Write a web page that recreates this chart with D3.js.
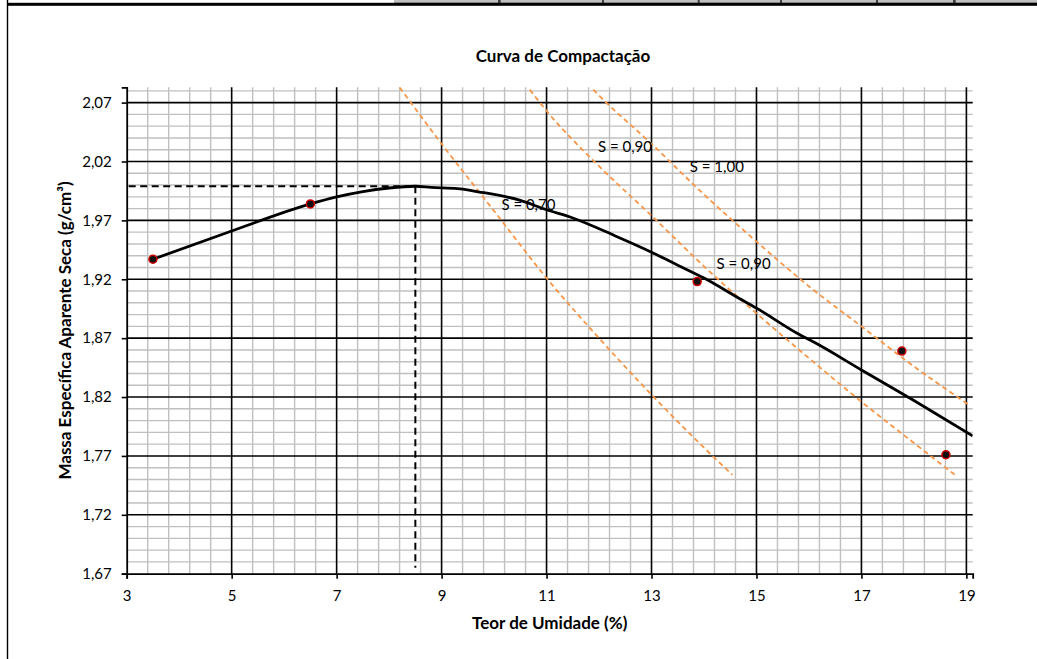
<!DOCTYPE html>
<html>
<head>
<meta charset="utf-8">
<script src="https://cdn.jsdelivr.net/npm/d3@7"></script>
<style>
    body { margin: 0; background: #fff; }
    svg { display: block; font-family: Lato, 'Open Sans', sans-serif; }
</style>
</head>
<body>
<div id="chart"></div>
<script>
// Data
const pointsW = [3.5, 6.5, 13.87, 17.77, 18.61];
const pointsG = [1.937, 1.984, 1.918, 1.859, 1.771];

// compaction curve (smoothed line)
const curveW = [3.5, 5.0, 6.5, 7.0, 7.5, 8.0, 8.5, 8.8, 9.3, 9.7, 10.5, 11.0, 11.5, 12.3, 13.0, 13.5, 14.0, 14.7, 15.0, 15.8, 16.1, 17.0, 18.0, 19.12];
const curveG = [1.937, 1.961, 1.984, 1.990, 1.9945, 1.9975, 1.999, 1.998, 1.997, 1.9943, 1.987, 1.979, 1.972, 1.957, 1.943, 1.932, 1.921, 1.903, 1.8955, 1.8735, 1.8665, 1.843, 1.817, 1.787];

// saturation lines
const s070W = [8.2, 9, 10, 11, 12, 13, 14, 14.54];
const s070G = [2.083, 2.035, 1.978, 1.921, 1.870, 1.822, 1.777, 1.754];
const s090W = [10.68, 11, 12, 13, 14, 15, 16, 17, 18, 18.78];
const s090G = [2.081, 2.063, 2.016, 1.974, 1.931, 1.891, 1.853, 1.816, 1.781, 1.754];
const s100W = [11.89, 12, 13, 14, 15, 16, 17, 18, 19.06];
const s100G = [2.081, 2.076, 2.035, 1.992, 1.952, 1.914, 1.880, 1.846, 1.813];

const labelTexts = ['S = 0,70', 'S = 0,90', 'S = 1,00', 'S = 0,90'];
const labelW = [10.14, 11.98, 13.73, 14.24];
const labelG = [1.983, 2.0325, 2.0155, 1.9335];

const optimumW = 8.5;
const optimumG = 1.999;

const xTicks = [3, 5, 7, 9, 11, 13, 15, 17, 19];
const yTicks = [1.67, 1.72, 1.77, 1.82, 1.87, 1.92, 1.97, 2.02, 2.07];
const yTickLabels = ['1,67', '1,72', '1,77', '1,82', '1,87', '1,92', '1,97', '2,02', '2,07'];

const zip = (xs, ys) => xs.map((x, i) => [x, ys[i]]);

// Dimensions
let dimensions = {
    width: 1037,
    height: 659,
    margin: {
        top: 87.3,
        bottom: 85.3,
        left: 126.7,
        right: 64.3,
    },
};
dimensions.ctrWidth = dimensions.width - dimensions.margin.left - dimensions.margin.right;
dimensions.ctrHeight = dimensions.height - dimensions.margin.top - dimensions.margin.bottom;

const svg = d3
    .select('#chart')
    .append('svg')
    .attr('width', dimensions.width)
    .attr('height', dimensions.height)
    ;

// spreadsheet leftovers around the chart
const sheetCells = [[394, 498], [500.7, 602], [604, 697.7], [699.7, 780], [782, 876], [878, 953], [955.7, 1037]];
svg.append('rect')
    .attr('x', 394).attr('y', 0).attr('width', 643).attr('height', 3)
    .attr('fill', '#404040')
    ;
svg.append('g')
    .selectAll('rect')
    .data(sheetCells)
    .join('rect')
    .attr('x', d => d[0])
    .attr('y', 0)
    .attr('width', d => d[1] - d[0])
    .attr('height', 2.8)
    .attr('fill', '#c0c0c0')
    ;
svg.append('rect')
    .attr('x', 7).attr('y', 2.8).attr('width', 1030).attr('height', 3)
    .attr('fill', '#000')
    ;
svg.append('rect')
    .attr('x', 6.8).attr('y', 0).attr('width', 1.4).attr('height', dimensions.height)
    .attr('fill', '#000')
    ;

const ctr = svg
    .append('g')
    .attr('transform', `translate(${dimensions.margin.left}, ${dimensions.margin.top})`)
    ;

// Scales
const xScale = d3
    .scaleLinear()
    .domain([3, 19.12])
    .range([0, dimensions.ctrWidth])
    ;
const yScale = d3
    .scaleLinear()
    .domain([1.67, 2.083])
    .range([dimensions.ctrHeight, 0])
    ;

ctr.append('clipPath')
    .attr('id', 'plot-clip')
    .append('rect')
    .attr('width', dimensions.ctrWidth)
    .attr('height', dimensions.ctrHeight)
    ;

// Grid
const minorX = d3.range(3.4, 19.01, 0.4).filter(v => Math.abs((v - 3) % 2) > 0.01 && Math.abs((v - 3) % 2 - 2) > 0.01);
const minorY = d3.range(1.68, 2.0801, 0.01).filter(v => !yTicks.some(t => Math.abs(t - v) < 0.001));

const grid = ctr.append('g');
grid.selectAll('.minor-x')
    .data(minorX)
    .join('line')
    .attr('x1', d => xScale(d)).attr('x2', d => xScale(d))
    .attr('y1', 0).attr('y2', dimensions.ctrHeight)
    .attr('stroke', '#c0c0c0')
    .attr('stroke-width', 1.4)
    ;
grid.selectAll('.minor-y')
    .data(minorY)
    .join('line')
    .attr('x1', 0).attr('x2', dimensions.ctrWidth)
    .attr('y1', d => yScale(d)).attr('y2', d => yScale(d))
    .attr('stroke', '#c0c0c0')
    .attr('stroke-width', 1.4)
    ;
grid.selectAll('.major-x')
    .data(xTicks.slice(1))
    .join('line')
    .attr('x1', d => xScale(d)).attr('x2', d => xScale(d))
    .attr('y1', 0).attr('y2', dimensions.ctrHeight)
    .attr('stroke', '#000')
    .attr('stroke-width', 1.6)
    ;
grid.selectAll('.major-y')
    .data(yTicks.slice(1))
    .join('line')
    .attr('x1', 0).attr('x2', dimensions.ctrWidth)
    .attr('y1', d => yScale(d)).attr('y2', d => yScale(d))
    .attr('stroke', '#000')
    .attr('stroke-width', 1.6)
    ;

// Axes
const xAxis = d3
    .axisBottom(xScale)
    .tickValues(xTicks)
    .tickSizeOuter(0)
    .tickSize(5)
    .tickPadding(12)
    ;
const yAxis = d3
    .axisLeft(yScale)
    .tickValues(yTicks)
    .tickFormat((d, i) => yTickLabels[i])
    .tickSizeOuter(0)
    .tickSize(5)
    .tickPadding(10)
    ;

const xAxisGroup = ctr
    .append('g')
    .attr('transform', `translate(0, ${dimensions.ctrHeight})`)
    .call(xAxis)
    ;
const yAxisGroup = ctr
    .append('g')
    .call(yAxis)
    ;

[xAxisGroup, yAxisGroup].forEach(g => {
    g.select('.domain').attr('stroke', '#000').attr('stroke-width', 1.8);
    g.selectAll('.tick line').attr('stroke', '#000').attr('stroke-width', 1.6);
    g.selectAll('.tick text')
        .attr('fill', '#000')
        .style('font-size', '15px')
        .style('font-family', 'Lato, sans-serif')
        ;
});

// Saturation lines
const line = d3.line()
    .x(d => xScale(d[0]))
    .y(d => yScale(d[1]))
    ;

const plot = ctr.append('g').attr('clip-path', 'url(#plot-clip)');

plot.selectAll('.sat')
    .data([zip(s070W, s070G), zip(s090W, s090G), zip(s100W, s100G)])
    .join('path')
    .attr('d', line.curve(d3.curveMonotoneX))
    .attr('fill', 'none')
    .attr('stroke', '#f79646')
    .attr('stroke-width', 1.8)
    .attr('stroke-dasharray', '5,3.5')
    ;

// Optimum guides
plot.append('path')
    .attr('d', d3.line()([
        [xScale(3), yScale(optimumG)],
        [xScale(optimumW), yScale(optimumG)],
    ]))
    .attr('stroke', '#000')
    .attr('stroke-width', 2)
    .attr('stroke-dasharray', '7,4.5')
    .attr('transform', 'translate(2,0)')
    ;
plot.append('path')
    .attr('d', d3.line()([
        [xScale(optimumW), yScale(optimumG)],
        [xScale(optimumW), yScale(1.67) - 6],
    ]))
    .attr('stroke', '#000')
    .attr('stroke-width', 2)
    .attr('stroke-dasharray', '7,4.5')
    ;

// Compaction curve
plot.append('path')
    .datum(zip(curveW, curveG))
    .attr('d', line.curve(d3.curveMonotoneX))
    .attr('fill', 'none')
    .attr('stroke', '#000')
    .attr('stroke-width', 2.8)
    .attr('stroke-linejoin', 'round')
    ;

// Points
ctr.append('g')
    .selectAll('circle')
    .data(zip(pointsW, pointsG))
    .join('circle')
    .attr('cx', d => xScale(d[0]))
    .attr('cy', d => yScale(d[1]))
    .attr('r', 4)
    .attr('fill', '#111')
    .attr('stroke', '#d00000')
    .attr('stroke-width', 1.5)
    ;

// Labels on saturation lines
ctr.append('g')
    .selectAll('text')
    .data(labelTexts)
    .join('text')
    .attr('x', (d, i) => xScale(labelW[i]))
    .attr('y', (d, i) => yScale(labelG[i]))
    .attr('dy', '0.35em')
    .style('font-size', '15px')
    .attr('fill', '#000')
    .text(d => d)
    ;

// Titles
svg.append('text')
    .attr('x', 563)
    .attr('y', 56)
    .attr('dy', '0.35em')
    .attr('text-anchor', 'middle')
    .style('font-size', '17px')
    .style('font-weight', 'bold')
    .text('Curva de Compactação')
    ;

xAxisGroup
    .append('text')
    .attr('x', dimensions.ctrWidth / 2)
    .attr('y', 629 - dimensions.margin.top - dimensions.ctrHeight)
    .attr('fill', '#000')
    .attr('text-anchor', 'middle')
    .style('font-size', '17px')
    .style('font-weight', 'bold')
    .style('font-family', 'Lato, sans-serif')
    .text('Teor de Umidade (%)')
    ;

yAxisGroup
    .append('text')
    .attr('transform', 'rotate(-90)')
    .attr('x', -dimensions.ctrHeight / 2)
    .attr('y', 65 - dimensions.margin.left)
    .attr('dy', '0.35em')
    .attr('fill', '#000')
    .attr('text-anchor', 'middle')
    .style('font-size', '17px')
    .style('font-weight', 'bold')
    .style('font-family', 'Lato, sans-serif')
    .text('Massa Específica Aparente Seca (g/cm³)')
    ;
</script>
</body>
</html>
